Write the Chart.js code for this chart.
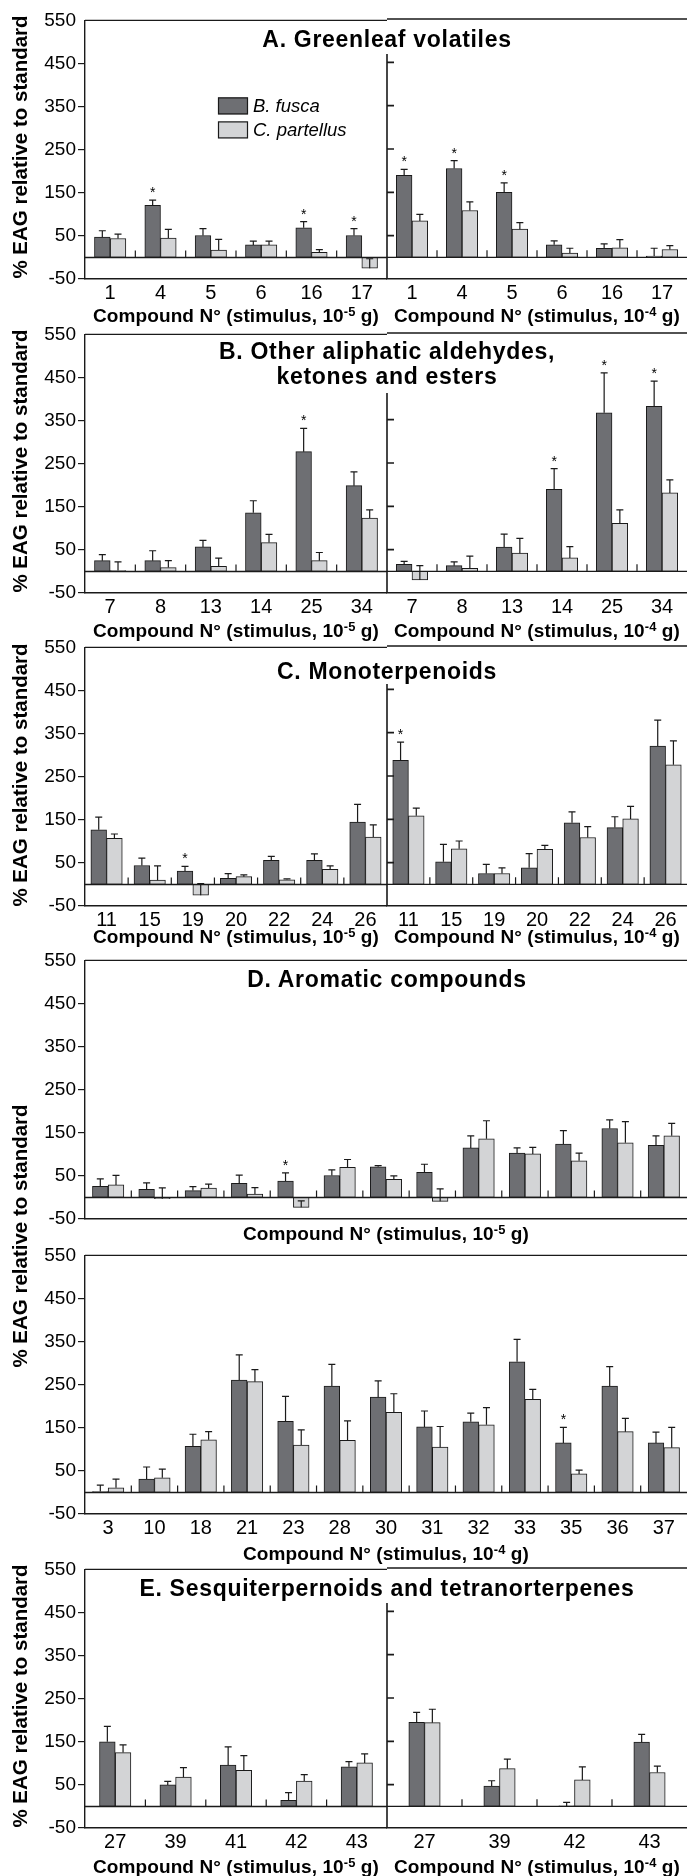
<!DOCTYPE html>
<html>
<head>
<meta charset="utf-8">
<title>EAG responses</title>
<script src="https://cdn.jsdelivr.net/npm/chart.js/dist/chart.umd.min.js"></script>
<style>
  html, body { margin: 0; padding: 0; background: #fff; }
  body { width: 687px; height: 1876px; position: relative; overflow: hidden;
         font-family: "Liberation Sans", Arial, sans-serif; color: #000; }
  canvas { position: absolute; }
  .ttl { position: absolute; font-weight: bold; font-size: 23px; letter-spacing: 0.7px; line-height: 25px;
         text-align: center; white-space: nowrap; transform: translate(-50%, -50%); z-index: 2; }
  .xt  { position: absolute; font-weight: bold; font-size: 19px; line-height: 1; white-space: nowrap;
         letter-spacing: 0.1px; transform: translate(-50%, -50%); z-index: 2; }
  .xt sup { font-size: 0.68em; vertical-align: 0.45em; line-height: 0; }
  .yt  { position: absolute; font-weight: bold; font-size: 20.5px; line-height: 1; white-space: nowrap;
         transform: translate(-50%, -50%) rotate(-90deg); z-index: 2; }
</style>
</head>
<body>

<!-- panel titles -->
<div class="ttl" style="left:387px;top:39px">A. Greenleaf volatiles</div>
<div class="ttl" style="left:387px;top:364px">B. Other aliphatic aldehydes,<br>ketones and esters</div>
<div class="ttl" style="left:387px;top:671px">C. Monoterpenoids</div>
<div class="ttl" style="left:387px;top:979px">D. Aromatic compounds</div>
<div class="ttl" style="left:387px;top:1588px">E. Sesquiterpernoids and tetranorterpenes</div>

<!-- y titles -->
<div class="yt" style="left:20px;top:147px">% EAG relative to standard</div>
<div class="yt" style="left:20px;top:461px">% EAG relative to standard</div>
<div class="yt" style="left:20px;top:775px">% EAG relative to standard</div>
<div class="yt" style="left:20px;top:1236px">% EAG relative to standard</div>
<div class="yt" style="left:20px;top:1696px">% EAG relative to standard</div>

<!-- x titles -->
<div class="xt" style="left:236px;top:315px">Compound N° (stimulus, 10<sup>-5</sup> g)</div>
<div class="xt" style="left:537px;top:315px">Compound N° (stimulus, 10<sup>-4</sup> g)</div>
<div class="xt" style="left:236px;top:630px">Compound N° (stimulus, 10<sup>-5</sup> g)</div>
<div class="xt" style="left:537px;top:630px">Compound N° (stimulus, 10<sup>-4</sup> g)</div>
<div class="xt" style="left:236px;top:936px">Compound N° (stimulus, 10<sup>-5</sup> g)</div>
<div class="xt" style="left:537px;top:936px">Compound N° (stimulus, 10<sup>-4</sup> g)</div>
<div class="xt" style="left:386px;top:1233px">Compound N° (stimulus, 10<sup>-5</sup> g)</div>
<div class="xt" style="left:386px;top:1553px">Compound N° (stimulus, 10<sup>-4</sup> g)</div>
<div class="xt" style="left:236px;top:1866px">Compound N° (stimulus, 10<sup>-5</sup> g)</div>
<div class="xt" style="left:537px;top:1866px">Compound N° (stimulus, 10<sup>-4</sup> g)</div>

<script>
'use strict';

// ---- data ----
const yTicks = [-50, 50, 150, 250, 350, 450, 550];
const seriesNames = ['B. fusca', 'C. partellus'];

// A. Greenleaf volatiles
const catsA = ['1', '4', '5', '6', '16', '17'];
const fuscaA5 = [47, 121, 51, 29, 69, 51];
const fuscaA5Err = [15, 12, 16, 9, 14, 16];
const partA5 = [44, 45, 17, 29, 12, -25];
const partA5Err = [10, 20, 25, 9, 6, 22];
const starA5 = [0, 1, 0, 0, 1, 1];
const fuscaA4 = [189, 205, 150, 29, 21, 3];
const fuscaA4Err = [14, 18, 22, 9, 10, 18];
const partA4 = [84, 108, 65, 10, 22, 18];
const partA4Err = [15, 20, 15, 11, 19, 9];
const starA4 = [1, 1, 1, 0, 0, 0];

// B. Other aliphatic aldehydes, ketones and esters
const catsB = ['7', '8', '13', '14', '25', '34'];
const fuscaB5 = [25, 25, 57, 136, 278, 199];
const fuscaB5Err = [14, 23, 15, 28, 54, 32];
const partB5 = [2, 9, 12, 67, 25, 124];
const partB5Err = [20, 16, 19, 19, 19, 19];
const starB5 = [0, 0, 0, 0, 1, 0];
const fuscaB4 = [16, 13, 56, 189, 366, 381];
const fuscaB4Err = [7, 9, 30, 48, 92, 58];
const partB4 = [-20, 7, 42, 31, 111, 181];
const partB4Err = [33, 28, 34, 26, 31, 30];
const starB4 = [0, 0, 0, 1, 1, 1];

// C. Monoterpenoids
const catsC = ['11', '15', '19', '20', '22', '24', '26'];
const fuscaC5 = [127, 44, 31, 14, 56, 56, 145];
const fuscaC5Err = [29, 17, 11, 11, 9, 15, 41];
const partC5 = [107, 10, -25, 18, 11, 35, 110];
const partC5Err = [10, 33, 27, 4, 2, 8, 28];
const starC5 = [0, 0, 1, 0, 0, 0, 0];
const fuscaC4 = [286, 52, 25, 38, 142, 131, 319];
const fuscaC4Err = [42, 40, 21, 33, 25, 25, 60];
const partC4 = [158, 82, 25, 81, 108, 151, 276];
const partC4Err = [18, 18, 13, 9, 25, 29, 55];
const starC4 = [1, 0, 0, 0, 0, 0, 0];

// D. Aromatic compounds
const catsD = ['3', '10', '18', '21', '23', '28', '30', '31', '32', '33', '35', '36', '37'];
const fuscaD5 = [26, 19, 16, 33, 38, 51, 71, 58, 115, 103, 124, 160, 121];
const fuscaD5Err = [17, 15, 9, 19, 19, 13, 3, 19, 28, 12, 31, 20, 22];
const partD5 = [29, -3, 22, 8, -23, 70, 42, -9, 136, 101, 85, 127, 143];
const partD5Err = [22, 25, 9, 15, 15, 18, 8, 29, 42, 15, 18, 49, 29];
const starD5 = [0, 0, 0, 0, 1, 0, 0, 0, 0, 0, 0, 0, 0];
const fuscaD4 = [2, 31, 107, 261, 165, 247, 221, 152, 164, 303, 115, 247, 115];
const fuscaD4Err = [15, 28, 28, 58, 58, 50, 38, 37, 20, 52, 36, 45, 25];
const partD4 = [11, 34, 122, 257, 110, 121, 186, 105, 157, 216, 43, 141, 104];
const partD4Err = [20, 20, 19, 28, 35, 45, 43, 48, 40, 23, 9, 31, 47];
const starD4 = [0, 0, 0, 0, 0, 0, 0, 0, 0, 0, 1, 0, 0];

// E. Sesquiterpenoids and tetranorterpenes
const catsE5 = ['27', '39', '41', '42', '43'];
const fuscaE5 = [150, 50, 96, 14, 92];
const fuscaE5Err = [36, 8, 42, 18, 12];
const partE5 = [125, 68, 84, 59, 101];
const partE5Err = [18, 22, 34, 15, 21];
const catsE4 = ['27', '39', '42', '43'];
const fuscaE4 = [194, 47, 1, 148];
const fuscaE4Err = [23, 12, 8, 18];
const partE4 = [193, 87, 61, 78];
const partE4Err = [31, 22, 30, 15];

// ---- look ----
const AREA_H = 260, PAD_TOP = 12, X_H = 30;
const DARK = '#6e6f73', LIGHT = '#d3d4d6', EDGE = '#1a1a1a';

Chart.defaults.font.family = '"Liberation Sans", Arial, sans-serif';
Chart.defaults.color = '#000';

// frame top, zero line, separator ticks, error bars, asterisks, divider, legend
const eagDecor = {
  id: 'eagDecor',
  afterDatasetsDraw(chart, args, o) {
    const { ctx, chartArea: a, scales: { x, y } } = chart;
    const y0 = y.getPixelForValue(0);
    ctx.save();
    ctx.strokeStyle = EDGE;
    ctx.fillStyle = '#000';

    ctx.lineWidth = 1.4;
    ctx.beginPath();
    ctx.moveTo(a.left, a.top); ctx.lineTo(a.right, a.top);
    ctx.moveTo(a.left, y0); ctx.lineTo(a.right, y0);
    ctx.stroke();

    ctx.lineWidth = 1.2;
    ctx.beginPath();
    for (let i = 1; i < chart.data.labels.length; i++) {
      const bx = (x.getPixelForValue(i - 1) + x.getPixelForValue(i)) / 2;
      ctx.moveTo(bx, y0); ctx.lineTo(bx, y0 - 7);
    }
    ctx.stroke();

    ctx.font = '14px "Liberation Sans", Arial, sans-serif';
    ctx.textAlign = 'center';
    ctx.textBaseline = 'alphabetic';
    chart.data.datasets.forEach((ds, di) => {
      chart.getDatasetMeta(di).data.forEach((bar, i) => {
        const v = ds.data[i];
        const yv = y.getPixelForValue(v);
        const ye = y.getPixelForValue(v + ds.errors[i]);
        ctx.beginPath();
        ctx.moveTo(bar.x, yv); ctx.lineTo(bar.x, ye);
        ctx.moveTo(bar.x - 3.5, ye); ctx.lineTo(bar.x + 3.5, ye);
        ctx.stroke();
        if (ds.stars[i]) ctx.fillText('*', bar.x, ye - 3);
      });
    });

    if (o.divider != null) {
      const dTop = a.top + o.divider;
      ctx.lineWidth = 1.6;
      ctx.beginPath();
      ctx.moveTo(a.left, dTop); ctx.lineTo(a.left, a.bottom);
      yTicks.forEach(v => {
        const py = y.getPixelForValue(v);
        if (py > dTop + 2 && py < a.bottom - 2) { ctx.moveTo(a.left, py); ctx.lineTo(a.left + 7, py); }
      });
      ctx.stroke();
    }

    if (o.legend) {
      const lx = a.left + 133, ly = a.top + 77;
      ctx.lineWidth = 1.2;
      ctx.font = 'italic 18.5px "Liberation Sans", Arial, sans-serif';
      ctx.textAlign = 'left';
      ctx.textBaseline = 'middle';
      chart.data.datasets.forEach((ds, di) => {
        const by = ly + di * 24;
        ctx.fillStyle = ds.backgroundColor;
        ctx.fillRect(lx, by, 30, 17);
        ctx.strokeRect(lx + 0.5, by + 0.5, 29, 16);
        ctx.fillStyle = '#000';
        ctx.fillText(ds.label, lx + 35, by + 9);
      });
    }
    ctx.restore();
  }
};

function addChart(p) {
  const cv = document.createElement('canvas');
  cv.width = p.w;
  cv.height = PAD_TOP + AREA_H + X_H;
  cv.style.left = p.x + 'px';
  cv.style.top = (p.top - PAD_TOP) + 'px';
  document.body.appendChild(cv);
  const showY = p.yAxis !== false;

  return new Chart(cv, {
    type: 'bar',
    data: {
      labels: p.cats,
      datasets: [
        { label: seriesNames[0], data: p.fusca, errors: p.fuscaErr, stars: p.stars || [], backgroundColor: DARK },
        { label: seriesNames[1], data: p.part, errors: p.partErr, stars: [], backgroundColor: LIGHT },
      ],
    },
    options: {
      responsive: false,
      animation: false,
      events: [],
      layout: { padding: { top: PAD_TOP, left: p.padLeft || 0, right: 0, bottom: 0 } },
      datasets: { bar: { barThickness: 15.7, borderColor: EDGE, borderWidth: 1, borderSkipped: false } },
      plugins: {
        legend: { display: false },
        tooltip: { enabled: false },
        eagDecor: { divider: p.divider, legend: !!p.legend },
      },
      scales: {
        x: {
          grid: { display: false, drawTicks: false, tickLength: 0 },
          border: { display: true, color: EDGE, width: 1.4 },
          ticks: { display: p.xLabels !== false, color: '#000', font: { size: 20 }, padding: 2, maxRotation: 0, autoSkip: false },
          afterFit: s => { s.height = X_H; },
        },
        y: {
          display: showY,
          min: -50,
          max: 550,
          afterBuildTicks: s => { s.ticks = yTicks.map(v => ({ value: v })); },
          grid: {
            drawOnChartArea: false,
            drawTicks: true,
            tickLength: 7,
            lineWidth: 1.2,
            color: c => (c.tick && c.tick.value === 550 ? 'rgba(0,0,0,0)' : EDGE),
          },
          border: { display: true, color: EDGE, width: 1.4 },
          ticks: { color: '#000', font: { size: 19 }, padding: 2 },
          afterFit: s => { s.width = showY ? 85 : 0; },
        },
      },
    },
    plugins: [eagDecor],
  });
}

const L = { x: 0, w: 387 };
const R = { x: 380, w: 307, padLeft: 7, yAxis: false };

// A
addChart({ ...L, top: 19, cats: catsA, fusca: fuscaA5, fuscaErr: fuscaA5Err, part: partA5, partErr: partA5Err, stars: starA5, legend: true });
addChart({ ...R, top: 19, divider: 35, cats: catsA, fusca: fuscaA4, fuscaErr: fuscaA4Err, part: partA4, partErr: partA4Err, stars: starA4 });
// B
addChart({ ...L, top: 333, cats: catsB, fusca: fuscaB5, fuscaErr: fuscaB5Err, part: partB5, partErr: partB5Err, stars: starB5 });
addChart({ ...R, top: 333, divider: 60, cats: catsB, fusca: fuscaB4, fuscaErr: fuscaB4Err, part: partB4, partErr: partB4Err, stars: starB4 });
// C
addChart({ ...L, top: 646, cats: catsC, fusca: fuscaC5, fuscaErr: fuscaC5Err, part: partC5, partErr: partC5Err, stars: starC5 });
addChart({ ...R, top: 646, divider: 38, cats: catsC, fusca: fuscaC4, fuscaErr: fuscaC4Err, part: partC4, partErr: partC4Err, stars: starC4 });
// D (full width, two doses stacked)
addChart({ x: 0, w: 687, top: 959, xLabels: false, cats: catsD, fusca: fuscaD5, fuscaErr: fuscaD5Err, part: partD5, partErr: partD5Err, stars: starD5 });
addChart({ x: 0, w: 687, top: 1254, cats: catsD, fusca: fuscaD4, fuscaErr: fuscaD4Err, part: partD4, partErr: partD4Err, stars: starD4 });
// E
addChart({ ...L, top: 1568, cats: catsE5, fusca: fuscaE5, fuscaErr: fuscaE5Err, part: partE5, partErr: partE5Err });
addChart({ ...R, top: 1568, divider: 35, cats: catsE4, fusca: fuscaE4, fuscaErr: fuscaE4Err, part: partE4, partErr: partE4Err });
</script>
</body>
</html>
